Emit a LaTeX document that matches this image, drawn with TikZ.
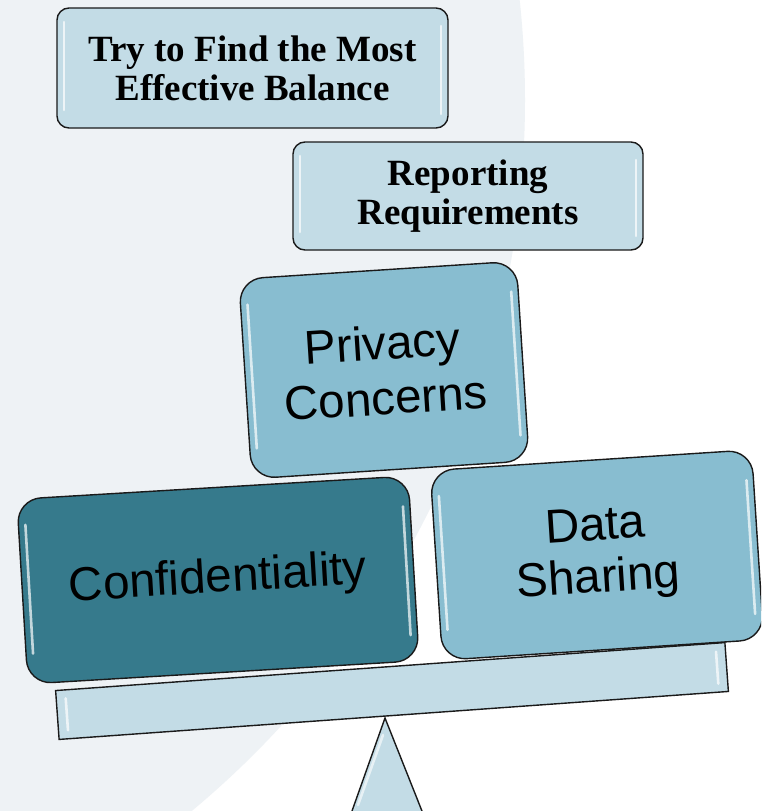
\documentclass[tikz,border=0pt]{standalone}
\usepackage{fontspec}
\setmainfont{Liberation Serif}
\newfontfamily\arialish{Liberation Sans}
\definecolor{bgA}{HTML}{EEF2F5}
\definecolor{paleblue}{HTML}{C3DCE6}
\definecolor{midblue}{HTML}{88BDD0}
\definecolor{darkteal}{HTML}{367A8C}
\definecolor{edgec}{HTML}{1A1A1A}
\tikzset{
  gbox/.style={draw=edgec, line width=1.4pt, rounded corners=#1pt, inner sep=0pt, align=center},
  hl/.style={white, opacity=0.7, line width=2.6pt, line cap=round},
  serifbox/.style={font=\fontsize{37}{39}\selectfont\bfseries},
  sansbox/.style={font=\arialish\fontsize{47.5}{52}\selectfont},
  sansloose/.style={font=\arialish\fontsize{47.5}{55}\selectfont},
}
% name, x, y, w, h, rotation, fill, radius, text/style
\newcommand{\glossbox}[9]{%
  \node[gbox=#8, fill=#7, minimum width=#4pt, minimum height=#5pt, rotate=#6, #9] (#1) at (#2,#3) {\csname txt#1\endcsname};
  \begin{scope}[shift={(#2,#3)}, rotate=#6]
    \draw[hl] ({-#4/2+7},{-#5/2+#8+2}) -- ({-#4/2+7},{#5/2-#8-6});
    \draw[hl] ({#4/2-7},{-#5/2+#8+6}) -- ({#4/2-7},{#5/2-#8-2});
  \end{scope}}
\newcommand{\txtgoal}{Try to Find the Most\\Effective Balance}
\newcommand{\txtreport}{Reporting\\Requirements}
\newcommand{\txtprivacy}{Privacy\\Concerns}
\newcommand{\txtconf}{Confidentiality}
\newcommand{\txtdata}{Data\\Sharing}
\begin{document}
\begin{tikzpicture}[x=1pt,y=-1pt]
\useasboundingbox (0,0) rectangle (761,811);
\clip (0,0) rectangle (761,811);
\fill[white] (0,0) rectangle (761,811);
\fill[bgA] (-400,100) circle (925);
% fulcrum
\draw[draw=edgec, line width=1.4pt, fill=paleblue, line join=miter] (385,718) coordinate (apex) -- (341.7,840) -- (433.5,840) -- cycle;
\draw[hl, opacity=0.6] (383,735) -- (358,805);
% plank
\node[draw=edgec, line width=1.4pt, fill=paleblue, minimum width=671pt, minimum height=49pt, inner sep=0pt, rotate=4.1] (plank) at (392,691) {};
\begin{scope}[shift={(392,691)}, rotate=4.1]
  \draw[hl] (-326,-16) -- (-326,16);
  \draw[hl] (326,-16) -- (326,16);
\end{scope}
% boxes
\glossbox{privacy}{384}{370}{278}{200}{3.7}{midblue}{24}{sansloose}
\glossbox{conf}{218}{580}{392}{185}{3.4}{darkteal}{24}{sansbox}
\glossbox{data}{597}{555}{322}{190}{3.7}{midblue}{24}{sansbox}
\glossbox{goal}{252.5}{68}{391}{120}{0}{paleblue}{12}{serifbox}
\glossbox{report}{468}{196}{350}{108}{0}{paleblue}{12}{serifbox}
\end{tikzpicture}
\end{document}
